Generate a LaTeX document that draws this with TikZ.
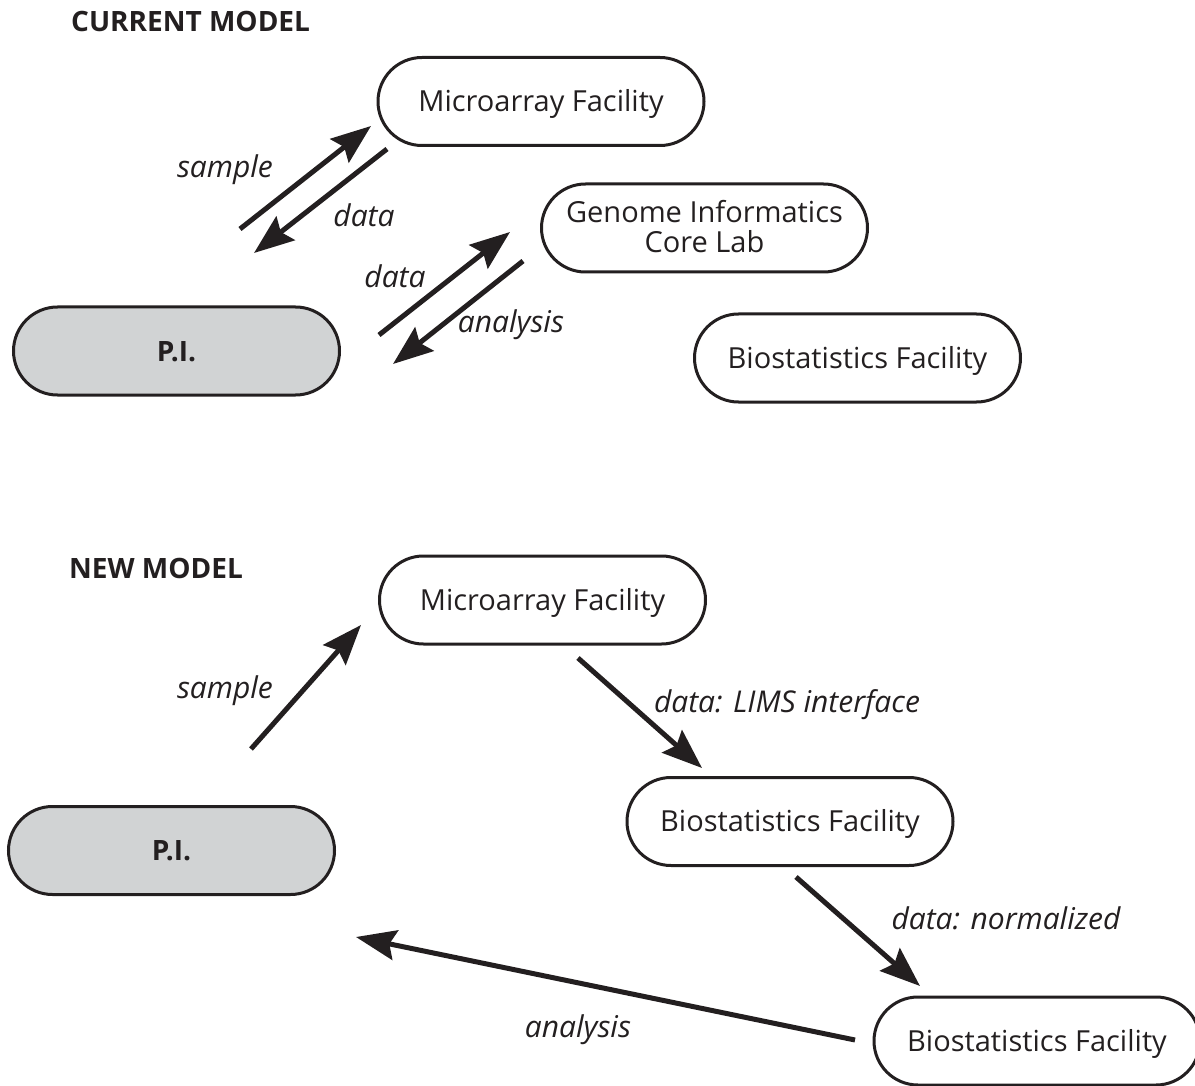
\documentclass[tikz,border=0pt]{standalone}
\usepackage{fontspec}
\setmainfont{Open Sans}
\usetikzlibrary{arrows.meta,shapes.misc}
\definecolor{pigray}{HTML}{D1D3D4}
\definecolor{ink}{HTML}{231F20}
\tikzset{
  box/.style={rounded rectangle, draw=ink, line width=3pt, minimum width=326pt, minimum height=88pt,
    inner sep=0pt, text height=20pt, text depth=0pt, align=center, text=ink,
    font=\fontsize{29}{30}\selectfont},
  pibox/.style={box, fill=pigray, font=\fontsize{28}{30}\selectfont\bfseries},
  arr/.style={draw=ink, line width=5pt, -{Stealth[length=40pt,width=30pt,inset=6pt]}},
  lab/.style={font=\fontsize{30}{32}\selectfont\itshape, anchor=base, inner sep=0pt, text=ink},
  ttl/.style={font=\fontsize{28}{30}\selectfont\bfseries, anchor=base west, inner sep=0pt, text=ink}
}
\begin{document}
\begin{tikzpicture}[x=1pt,y=-1pt]
\useasboundingbox (0,0) rectangle (1195,1086);
% ---------- current model ----------
\node[ttl] (t1) at (71,32) {CURRENT MODEL};
\node[box] (mc) at (541,101.5) {Microarray Facility};
\node[box, text height=50pt] (gc) at (704.5,228) {Genome Informatics\\Core Lab};
\node[box] (bc) at (857.5,358) {Biostatistics Facility};
\node[pibox] (pc) at (176.5,351) {P.I.};
\coordinate (a1s) at (240,229); \coordinate (a1e) at (371,126);
\coordinate (a2s) at (387,149); \coordinate (a2e) at (254,253);
\coordinate (a3s) at (379,335); \coordinate (a3e) at (510,232);
\coordinate (a4s) at (523,261); \coordinate (a4e) at (393,364);
\draw[arr] (a1s) -- (a1e);
\draw[arr] (a2s) -- (a2e);
\draw[arr] (a3s) -- (a3e);
\draw[arr] (a4s) -- (a4e);
\node[lab] (l1) at (225,178) {sample};
\node[lab] (l2) at (364,227) {data};
\node[lab] (l3) at (395,288) {data};
\node[lab] (l4) at (511,333) {analysis};
% ---------- new model ----------
\node[ttl] (t2) at (69,578) {NEW MODEL};
\node[box] (mn) at (542.5,600) {Microarray Facility};
\node[pibox] (pn) at (171.5,850.5) {P.I.};
\node[box] (bn1) at (790,821.5) {Biostatistics Facility};
\node[box] (bn2) at (1037,1041) {Biostatistics Facility};
\coordinate (b1s) at (251,749); \coordinate (b1e) at (361,625);
\coordinate (b2s) at (578,658); \coordinate (b2e) at (702,768);
\coordinate (b3s) at (796,877); \coordinate (b3e) at (920,986);
\coordinate (b4s) at (855,1040); \coordinate (b4e) at (356,937);
\draw[arr] (b1s) -- (b1e);
\draw[arr] (b2s) -- (b2e);
\draw[arr] (b3s) -- (b3e);
\draw[arr] (b4s) -- (b4e);
\node[lab] (m1) at (225,698) {sample};
\node[lab] (m2) at (787,712) {data: LIMS interface};
\node[lab] (m3) at (1006,929) {data: normalized};
\node[lab] (m4) at (578,1037) {analysis};
\end{tikzpicture}
\end{document}
